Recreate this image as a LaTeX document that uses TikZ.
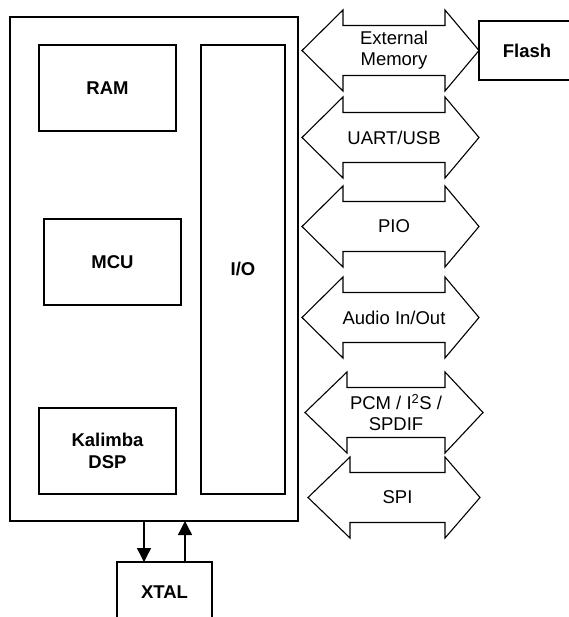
\documentclass[tikz,border=0pt]{standalone}
\usepackage{fontspec}
\setmainfont{Liberation Sans}
\usetikzlibrary{arrows.meta}
\tikzset{
  outerbox/.style={draw, line width=2.4pt},
  innerbox/.style={draw, line width=1.3pt},
  busline/.style={draw, line width=1.1pt, line join=miter},
  lbl/.style={font=\fontsize{18.5}{21}\selectfont, align=center, inner sep=0pt},
  blbl/.style={font=\fontsize{18.5}{22}\selectfont\bfseries, align=center, inner sep=0pt},
  sig/.style={line width=1.3pt, -{Triangle[length=14pt,width=14pt]}}
}
\newcommand{\busarrow}[7]{%
  \draw[busline] (#3,#2) -- (#4,#2-40.5) -- (#4,#2-25) -- (#5,#2-25) -- (#5,#2-40.5)
    -- (#6,#2) -- (#5,#2+40.5) -- (#5,#2+25) -- (#4,#2+25) -- (#4,#2+40.5) -- cycle;
  \node[lbl] (#1) at ({(#4+#5)/2},#2) {#7};
}
\begin{document}
\begin{tikzpicture}[x=1pt,y=-1pt]
\useasboundingbox (0,0) rectangle (568,617);
% chip outline
\draw[outerbox] (10,17) rectangle (298,521);
\coordinate (chipA) at (144,521);
\coordinate (chipB) at (185,521);
% inner blocks
\draw[innerbox] (39,45) rectangle (176,131);
\node[blbl] (ram) at (107.5,88) {RAM};
\draw[innerbox] (44,219) rectangle (181,305);
\node[blbl] (mcu) at (112.5,262) {MCU};
\draw[innerbox] (39,408) rectangle (176,494);
\node[blbl] (dsp) at (107.5,451) {Kalimba\\DSP};
\draw[innerbox] (201,45) rectangle (285,494);
\node[blbl] (io) at (243,269) {I/O};
% bus arrows
\busarrow{ext}{50.5}{302}{343}{445}{479}{External\\Memory}
\busarrow{uart}{137.5}{302}{343}{445}{479}{UART/USB}
\busarrow{pio}{226.5}{302}{343}{445}{479}{PIO}
\busarrow{audio}{317.5}{302}{343}{445}{479}{Audio In/Out}
\busarrow{pcm}{412.5}{305}{347}{445}{483}{PCM / I\textsuperscript{2}S /\\SPDIF}
\busarrow{spi}{497.5}{308}{350}{445}{480}{SPI}
% Flash (cut at right edge)
\draw[innerbox] (570,21) -- (479,21) -- (479,80) -- (570,80);
\node[blbl] (flash) at (527,50.5) {Flash};
% XTAL (cut at bottom edge)
\draw[innerbox] (117,620) -- (117,562) -- (212,562) -- (212,620);
\node[blbl] (xtal) at (164.5,592) {XTAL};
\coordinate (xA) at (144,562);
\coordinate (xB) at (185,562);
\draw[sig] (chipA) -- (xA);
\draw[sig] (xB) -- (chipB);
\end{tikzpicture}
\end{document}
